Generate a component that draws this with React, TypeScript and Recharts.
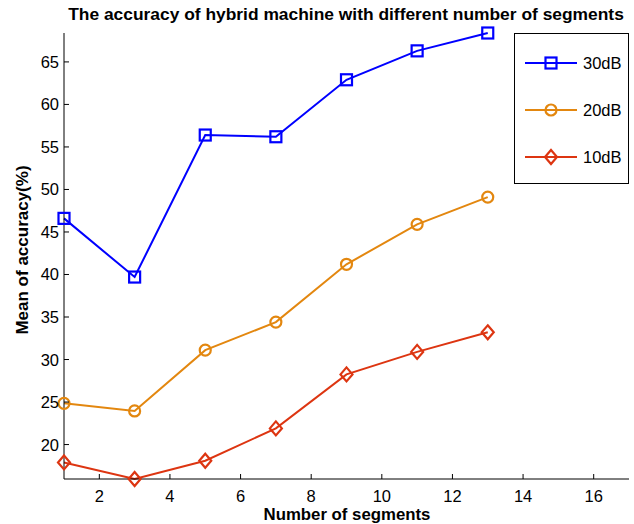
import { LineChart, Line, XAxis, YAxis } from 'recharts';

const segments = [1, 3, 5, 7, 9, 11, 13];
const acc30 = [46.6, 39.7, 56.4, 56.2, 62.9, 66.3, 68.4];
const acc20 = [24.85, 23.95, 31.1, 34.4, 41.2, 45.9, 49.1];
const acc10 = [17.9, 15.95, 18.1, 21.9, 28.25, 30.9, 33.2];

const xTicks = [2, 4, 6, 8, 10, 12, 14, 16];
const yTicks = [20, 25, 30, 35, 40, 45, 50, 55, 60, 65];

const BLUE = '#0000FF';
const ORANGE = '#E3870F';
const RED = '#DD3511';
const FONT = '"Liberation Sans", Arial, Helvetica, sans-serif';

const data = segments.map((s, i) => ({ seg: s, a30: acc30[i], a20: acc20[i], a10: acc10[i] }));

const series = [
  { key: 'a30', name: '30dB', color: BLUE, shape: 'square' },
  { key: 'a20', name: '20dB', color: ORANGE, shape: 'circle' },
  { key: 'a10', name: '10dB', color: RED, shape: 'diamond' },
];

function Marker({ cx, cy, shape, color }: { cx: number; cy: number; shape: string; color: string }) {
  if (shape === 'square') {
    return <rect x={cx - 5.5} y={cy - 5.5} width={11} height={11} fill="none" stroke={color} strokeWidth={2.2} />;
  }
  if (shape === 'circle') {
    return <circle cx={cx} cy={cy} r={5.5} fill="none" stroke={color} strokeWidth={2.2} />;
  }
  return (
    <polygon
      points={`${cx},${cy - 7} ${cx + 6},${cy} ${cx},${cy + 7} ${cx - 6},${cy}`}
      fill="none"
      stroke={color}
      strokeWidth={2.2}
    />
  );
}

const BottomTick = ({ x, y, payload }: any) => (
  <g>
    <line x1={x} x2={x} y1={y} y2={y - 5} stroke="#000" />
    <text x={x} y={y + 23} textAnchor="middle" fontSize={16.5} fontFamily={FONT} fill="#000">
      {payload.value}
    </text>
  </g>
);

const TopTick = ({ x, y }: any) => <line x1={x} x2={x} y1={y} y2={y + 5} stroke="#000" />;

const LeftTick = ({ x, y, payload }: any) => (
  <g>
    <line x1={x} x2={x + 5} y1={y} y2={y} stroke="#000" />
    <text x={x - 5} y={y + 6} textAnchor="end" fontSize={16.5} fontFamily={FONT} fill="#000">
      {payload.value}
    </text>
  </g>
);

const RightTick = ({ x, y }: any) => <line x1={x} x2={x - 5} y1={y} y2={y} stroke="#000" />;

function LegendBox() {
  const rows = [63, 110, 157];
  return (
    <svg width={115} height={151} style={{ position: 'absolute', left: 514, top: 33 }}>
      <rect x={0.5} y={0.5} width={114} height={150} fill="#fff" stroke="#000" />
      {series.map((s, i) => (
        <g key={s.key}>
          <line x1={11} x2={63} y1={rows[i] - 33} y2={rows[i] - 33} stroke={s.color} strokeWidth={2} />
          <Marker cx={37} cy={rows[i] - 33} shape={s.shape} color={s.color} />
          <text x={69} y={rows[i] - 33 + 6} fontSize={16.5} fontFamily={FONT} fill="#000">
            {s.name}
          </text>
        </g>
      ))}
    </svg>
  );
}

export default function App() {
  return (
    <div style={{ position: 'absolute', left: 0, top: 0, width: 634, height: 524, background: '#fff' }}>
      <LineChart width={634} height={524} data={data} margin={{ top: 33, right: 5, bottom: 0, left: 0 }}>
        <text x={346} y={20} textAnchor="middle" fontSize={17.4} fontWeight="bold" fontFamily={FONT} fill="#000">
          The accuracy of hybrid machine with different number of segments
        </text>
        <XAxis
          dataKey="seg"
          type="number"
          domain={[1, 17]}
          ticks={xTicks}
          height={45}
          tickSize={0}
          tickMargin={0}
          tick={<BottomTick />}
          axisLine={{ stroke: '#000' }}
          tickLine={false}
        />
        <XAxis
          xAxisId="top"
          orientation="top"
          dataKey="seg"
          type="number"
          domain={[1, 17]}
          ticks={xTicks}
          height={0}
          tickSize={0}
          tickMargin={0}
          tick={<TopTick />}
          axisLine={{ stroke: '#000' }}
          tickLine={false}
        />
        <YAxis
          type="number"
          domain={[15.95, 68.4]}
          ticks={yTicks}
          width={64}
          tickSize={0}
          tickMargin={0}
          tick={<LeftTick />}
          axisLine={{ stroke: '#000' }}
          tickLine={false}
        />
        <YAxis
          yAxisId="right"
          orientation="right"
          type="number"
          domain={[15.95, 68.4]}
          ticks={yTicks}
          width={0}
          tickSize={0}
          tickMargin={0}
          tick={<RightTick />}
          axisLine={{ stroke: '#000' }}
          tickLine={false}
        />
        {series.map((s) => (
          <Line
            key={s.key}
            dataKey={s.key}
            name={s.name}
            stroke={s.color}
            strokeWidth={2}
            isAnimationActive={false}
            dot={(p: any) => <Marker key={`${s.key}-${p.index}`} cx={p.cx} cy={p.cy} shape={s.shape} color={s.color} />}
            activeDot={false}
          />
        ))}
        <text x={347} y={520} textAnchor="middle" fontSize={16.8} fontWeight="bold" fontFamily={FONT} fill="#000">
          Number of segments
        </text>
        <text
          x={28}
          y={250}
          transform="rotate(-90 28 250)"
          textAnchor="middle"
          fontSize={17}
          fontWeight="bold"
          fontFamily={FONT}
          fill="#000"
        >
          Mean of accuracy(%)
        </text>
      </LineChart>
      <LegendBox />
    </div>
  );
}
